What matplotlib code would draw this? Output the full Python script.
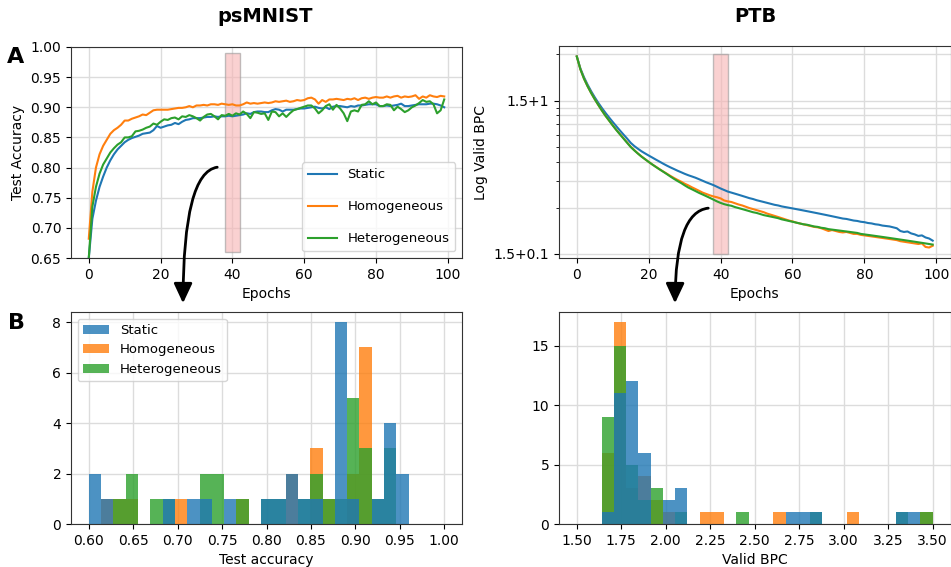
import numpy as np
import matplotlib
matplotlib.use("Agg")
import matplotlib.pyplot as plt
from matplotlib.patches import FancyArrowPatch, Rectangle
from matplotlib.ticker import FixedLocator, FixedFormatter, LogLocator, NullFormatter

# --- psMNIST test accuracy per epoch ---
epochs = np.arange(100)
acc_static = [
    0.650, 0.715, 0.745, 0.768, 0.785, 0.800, 0.812, 0.822, 0.830, 0.836,
    0.842, 0.846, 0.849, 0.851, 0.853, 0.856, 0.857, 0.858, 0.862, 0.869,
    0.866, 0.868, 0.870, 0.871, 0.874, 0.872, 0.876, 0.879, 0.880, 0.882,
    0.882, 0.882, 0.883, 0.884, 0.884, 0.885, 0.884, 0.885, 0.885, 0.886,
    0.885, 0.886, 0.887, 0.888, 0.890, 0.889, 0.892, 0.893, 0.893, 0.892,
    0.892, 0.895, 0.897, 0.896, 0.893, 0.896, 0.896, 0.896, 0.897, 0.898,
    0.898, 0.899, 0.900, 0.901, 0.899, 0.898, 0.900, 0.897, 0.901, 0.902,
    0.902, 0.901, 0.900, 0.902, 0.901, 0.903, 0.903, 0.904, 0.905, 0.905,
    0.905, 0.902, 0.902, 0.903, 0.902, 0.903, 0.904, 0.906, 0.902, 0.902,
    0.903, 0.904, 0.905, 0.905, 0.905, 0.906, 0.906, 0.905, 0.903, 0.900]
acc_homog = [
    0.682, 0.760, 0.800, 0.822, 0.836, 0.846, 0.856, 0.862, 0.866, 0.871,
    0.878, 0.878, 0.881, 0.883, 0.885, 0.888, 0.887, 0.891, 0.895, 0.896,
    0.896, 0.896, 0.896, 0.897, 0.898, 0.899, 0.899, 0.900, 0.902, 0.900,
    0.903, 0.903, 0.904, 0.903, 0.905, 0.905, 0.904, 0.906, 0.905, 0.904,
    0.905, 0.903, 0.903, 0.905, 0.908, 0.906, 0.907, 0.906, 0.907, 0.908,
    0.907, 0.908, 0.910, 0.909, 0.910, 0.911, 0.909, 0.910, 0.912, 0.911,
    0.912, 0.915, 0.916, 0.913, 0.906, 0.912, 0.909, 0.913, 0.913, 0.914,
    0.913, 0.912, 0.914, 0.913, 0.915, 0.912, 0.915, 0.916, 0.914, 0.916,
    0.917, 0.916, 0.916, 0.918, 0.916, 0.918, 0.919, 0.916, 0.918, 0.917,
    0.918, 0.920, 0.914, 0.918, 0.916, 0.920, 0.918, 0.917, 0.919, 0.918]
acc_hetero = [
    0.650, 0.735, 0.768, 0.790, 0.805, 0.815, 0.825, 0.832, 0.838, 0.842,
    0.850, 0.850, 0.852, 0.860, 0.861, 0.863, 0.866, 0.868, 0.873, 0.871,
    0.876, 0.880, 0.879, 0.882, 0.883, 0.880, 0.885, 0.884, 0.887, 0.885,
    0.882, 0.878, 0.884, 0.888, 0.889, 0.885, 0.880, 0.887, 0.886, 0.889,
    0.886, 0.890, 0.888, 0.893, 0.889, 0.882, 0.892, 0.891, 0.889, 0.890,
    0.879, 0.893, 0.892, 0.885, 0.890, 0.884, 0.890, 0.895, 0.897, 0.899,
    0.901, 0.903, 0.903, 0.898, 0.890, 0.895, 0.902, 0.905, 0.896, 0.904,
    0.898, 0.890, 0.877, 0.893, 0.895, 0.893, 0.904, 0.905, 0.910, 0.905,
    0.908, 0.902, 0.902, 0.905, 0.904, 0.895, 0.901, 0.897, 0.892, 0.895,
    0.900, 0.903, 0.907, 0.912, 0.909, 0.910, 0.905, 0.890, 0.895, 0.913]

# --- PTB validation BPC minus 1.5, per epoch (plotted on log axis) ---
bpc_static = [
    1.94, 1.62, 1.42, 1.27, 1.15, 1.05, 0.965, 0.893, 0.830, 0.775,
    0.725, 0.680, 0.638, 0.600, 0.565, 0.530, 0.505, 0.485, 0.467, 0.452,
    0.438, 0.425, 0.412, 0.400, 0.388, 0.377, 0.367, 0.358, 0.349, 0.341,
    0.333, 0.326, 0.320, 0.314, 0.307, 0.300, 0.293, 0.287, 0.281, 0.274,
    0.267, 0.261, 0.255, 0.251, 0.247, 0.243, 0.239, 0.235, 0.231, 0.228,
    0.224, 0.221, 0.218, 0.215, 0.212, 0.209, 0.207, 0.204, 0.202, 0.200,
    0.198, 0.196, 0.194, 0.192, 0.190, 0.188, 0.186, 0.184, 0.182, 0.180,
    0.178, 0.176, 0.174, 0.172, 0.170, 0.169, 0.167, 0.165, 0.164, 0.162,
    0.161, 0.159, 0.158, 0.156, 0.155, 0.153, 0.152, 0.151, 0.149, 0.147,
    0.141, 0.139, 0.140, 0.136, 0.134, 0.131, 0.132, 0.128, 0.126, 0.122]
bpc_homog = [
    1.94, 1.60, 1.39, 1.24, 1.12, 1.02, 0.935, 0.860, 0.795, 0.740,
    0.690, 0.645, 0.605, 0.568, 0.533, 0.500, 0.475, 0.452, 0.432, 0.415,
    0.398, 0.383, 0.370, 0.357, 0.345, 0.334, 0.323, 0.313, 0.304, 0.296,
    0.287, 0.280, 0.272, 0.265, 0.258, 0.251, 0.246, 0.241, 0.237, 0.234,
    0.230, 0.223, 0.220, 0.218, 0.214, 0.210, 0.207, 0.203, 0.199, 0.196,
    0.193, 0.190, 0.187, 0.183, 0.180, 0.177, 0.174, 0.171, 0.168, 0.165,
    0.163, 0.160, 0.158, 0.156, 0.154, 0.152, 0.150, 0.149, 0.147, 0.144,
    0.141, 0.143, 0.141, 0.139, 0.138, 0.139, 0.137, 0.135, 0.135, 0.133,
    0.132, 0.131, 0.130, 0.129, 0.128, 0.127, 0.126, 0.125, 0.124, 0.123,
    0.121, 0.120, 0.119, 0.118, 0.117, 0.116, 0.117, 0.111, 0.110, 0.113]
bpc_hetero = [
    1.94, 1.60, 1.39, 1.24, 1.12, 1.02, 0.935, 0.860, 0.795, 0.740,
    0.688, 0.642, 0.602, 0.565, 0.530, 0.498, 0.473, 0.451, 0.431, 0.414,
    0.398, 0.383, 0.369, 0.356, 0.344, 0.332, 0.320, 0.309, 0.299, 0.290,
    0.280, 0.271, 0.264, 0.257, 0.250, 0.244, 0.238, 0.232, 0.226, 0.220,
    0.215, 0.211, 0.208, 0.206, 0.202, 0.199, 0.196, 0.193, 0.190, 0.187,
    0.185, 0.182, 0.179, 0.177, 0.175, 0.173, 0.171, 0.168, 0.166, 0.164,
    0.162, 0.160, 0.158, 0.156, 0.155, 0.153, 0.151, 0.150, 0.148, 0.147,
    0.145, 0.144, 0.143, 0.142, 0.141, 0.140, 0.139, 0.138, 0.137, 0.135,
    0.134, 0.133, 0.132, 0.131, 0.130, 0.129, 0.128, 0.127, 0.126, 0.125,
    0.124, 0.123, 0.122, 0.121, 0.120, 0.119, 0.118, 0.117, 0.116, 0.115]

# --- histograms at epoch 40 (counts per bin) ---
acc_edges = np.linspace(0.6, 0.96, 27)
acc_cnt_static = [2, 1, 0, 0, 0, 0, 1, 0, 1, 1, 0, 1, 0, 0, 1, 1, 2, 1, 1, 0, 8, 1, 0, 1, 4, 2]
acc_cnt_homog  = [0, 1, 1, 1, 0, 0, 0, 1, 0, 0, 0, 0, 1, 0, 0, 0, 2, 0, 3, 1, 0, 2, 7, 0, 0, 0]
acc_cnt_hetero = [0, 0, 1, 2, 0, 1, 1, 0, 0, 2, 2, 0, 1, 0, 1, 1, 0, 1, 2, 1, 1, 5, 3, 1, 3, 0]

bpc_edges = np.linspace(1.639, 3.5, 28)
bpc_cnt_static = [1, 11, 12, 6, 0, 2, 3, 0, 0, 0, 0, 0, 0, 0, 0, 1, 1, 1, 0, 0, 0, 0, 0, 0, 1, 1, 0]
bpc_cnt_homog  = [6, 17, 3, 4, 2, 1, 0, 0, 1, 1, 0, 0, 0, 0, 1, 0, 0, 0, 0, 0, 1, 0, 0, 0, 0, 0, 1]
bpc_cnt_hetero = [9, 15, 5, 2, 3, 0, 1, 0, 0, 0, 0, 1, 0, 0, 0, 0, 0, 1, 0, 0, 0, 0, 0, 0, 1, 0, 1]

names = ["Static", "Homogeneous", "Heterogeneous"]
C = {"Static": "#1f77b4", "Homogeneous": "#ff7f0e", "Heterogeneous": "#2ca02c"}

plt.rcParams["font.size"] = 10
plt.rcParams["axes.edgecolor"] = "#333333"

W, H = 951, 567
fig = plt.figure(figsize=(W / 100, H / 100), dpi=100)

def px_axes(l, t, r, b):
    return fig.add_axes([l / W, 1 - b / H, (r - l) / W, (b - t) / H])

ax_a1 = px_axes(71, 47, 462, 258)
ax_a2 = px_axes(559, 46, 950.5, 258)
ax_b1 = px_axes(71, 312, 462, 524)
ax_b2 = px_axes(559, 312, 950.5, 524)

for a in (ax_a1, ax_a2, ax_b1, ax_b2):
    a.set_axisbelow(True)
    a.grid(True, color="#dcdcdc", lw=1)

# A, left: accuracy curves
ax_a1.plot(epochs, acc_static, color=C["Static"], lw=1.5, label="Static")
ax_a1.plot(epochs, acc_homog, color=C["Homogeneous"], lw=1.5, label="Homogeneous")
ax_a1.plot(epochs, acc_hetero, color=C["Heterogeneous"], lw=1.5, label="Heterogeneous")
ax_a1.add_patch(Rectangle((38, 0.66), 4, 0.33, facecolor="#f7b3b3", alpha=0.6,
                          edgecolor="#999999", lw=1))
ax_a1.set_ylim(0.65, 1.0)
ax_a1.set_yticks(np.arange(0.65, 1.001, 0.05))
ax_a1.set_xticks([0, 20, 40, 60, 80, 100])
ax_a1.set_xlabel("Epochs")
ax_a1.set_ylabel("Test Accuracy")
ax_a1.legend(loc="lower right", fontsize=9.5, borderpad=0.45, labelspacing=1.45,
             handlelength=2.2)

# A, right: log BPC curves
ax_a2.plot(epochs, bpc_static, color=C["Static"], lw=1.5)
ax_a2.plot(epochs, bpc_homog, color=C["Homogeneous"], lw=1.5)
ax_a2.plot(epochs, bpc_hetero, color=C["Heterogeneous"], lw=1.5)
ax_a2.set_yscale("log")
ax_a2.add_patch(Rectangle((38, 0.1), 4, 1.9, facecolor="#f7b3b3", alpha=0.6,
                          edgecolor="#999999", lw=1))
ax_a2.set_ylim(0.094, 2.27)
ax_a2.yaxis.set_major_locator(FixedLocator([0.1, 1.0]))
ax_a2.yaxis.set_major_formatter(FixedFormatter(["1.5+0.1", "1.5+1"]))
ax_a2.yaxis.set_minor_locator(LogLocator(base=10, subs=np.arange(2, 10)))
ax_a2.yaxis.set_minor_formatter(NullFormatter())
ax_a2.grid(True, which="minor", axis="y", color="#dcdcdc", lw=1)
ax_a2.set_xticks([0, 20, 40, 60, 80, 100])
ax_a2.set_xlabel("Epochs")
ax_a2.set_ylabel("Log Valid BPC")

# B: histograms, drawn so Static sits on top
def hist3(ax, edges, counts):
    centers = (edges[:-1] + edges[1:]) / 2
    h = {}
    for n in ["Homogeneous", "Heterogeneous", "Static"]:
        _, _, h[n] = ax.hist(centers, bins=edges, weights=counts[n],
                             color=C[n], alpha=0.8, label=n)
    return [h[n] for n in names]

hb1 = hist3(ax_b1, acc_edges, {"Static": acc_cnt_static, "Homogeneous": acc_cnt_homog,
                               "Heterogeneous": acc_cnt_hetero})
ax_b1.set_xlim(0.58, 1.02)
ax_b1.set_xticks(np.arange(0.6, 1.001, 0.05))
ax_b1.set_xticklabels([f"{v:.2f}" for v in np.arange(0.6, 1.001, 0.05)])
ax_b1.set_ylim(0, 8.4)
ax_b1.set_yticks([0, 2, 4, 6, 8])
ax_b1.set_xlabel("Test accuracy")
ax_b1.legend(hb1, names, loc="upper left", fontsize=9.5, borderpad=0.4, labelspacing=0.5)

hist3(ax_b2, bpc_edges, {"Static": bpc_cnt_static, "Homogeneous": bpc_cnt_homog,
                         "Heterogeneous": bpc_cnt_hetero})
ax_b2.set_xlim(1.4, 3.6)
ax_b2.set_xticks(np.arange(1.5, 3.501, 0.25))
ax_b2.set_xticklabels([f"{v:.2f}" for v in np.arange(1.5, 3.501, 0.25)])
ax_b2.set_ylim(0, 17.85)
ax_b2.set_yticks([0, 5, 10, 15])
ax_b2.set_xlabel("Valid BPC")

# titles and panel letters
fig.text(265 / W, 1 - 16 / H, "psMNIST", ha="center", va="center", fontsize=14, fontweight="bold")
fig.text(755 / W, 1 - 16 / H, "PTB", ha="center", va="center", fontsize=14, fontweight="bold")
fig.text(16 / W, 1 - 57 / H, "A", ha="center", va="center", fontsize=16, fontweight="bold")
fig.text(16 / W, 1 - 323 / H, "B", ha="center", va="center", fontsize=16, fontweight="bold")

# curved arrows from the epoch-40 band to the histograms
for (x0, y0), (x1, y1) in [((220, 167), (183, 306)), ((711, 208), (675, 306))]:
    arr = FancyArrowPatch((x0 / W, 1 - y0 / H), (x1 / W, 1 - y1 / H),
                          transform=fig.transFigure,
                          connectionstyle="angle3,angleA=0,angleB=90",
                          arrowstyle="-|>,head_length=0.6,head_width=0.28",
                          mutation_scale=20, color="black", lw=2)
    fig.patches.append(arr)

fig.savefig("out.png", dpi=100)
